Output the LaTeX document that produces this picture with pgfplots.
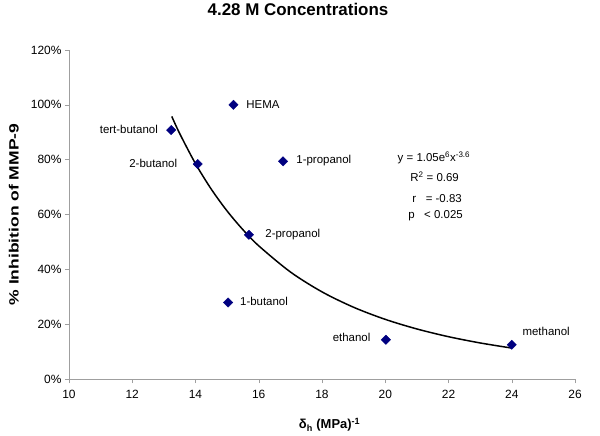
\documentclass[border=0pt]{standalone}
\usepackage{fontspec}
\setmainfont{Liberation Sans}
\usepackage{graphicx}
\usepackage{pgfplots}
\pgfplotsset{compat=1.18}
\definecolor{navy}{RGB}{0,0,128}
\newcommand{\lab}{\fontsize{11.5}{13}\selectfont}
\begin{document}
\begin{tikzpicture}
\begin{axis}[name=ax, scale only axis, width=506bp, height=329bp,
  xmin=10, xmax=26, ymin=0, ymax=120,
  xtick={10,12,...,26}, ytick={0,20,...,120},
  yticklabel={\pgfmathprintnumber{\tick}\%},
  axis x line*=bottom, axis y line*=left,
  axis line style={draw=gray!75, -},
  tick style={draw=gray!75, thin}, tick align=outside, major tick length=4bp,
  ticklabel style={font=\fontsize{12}{14}\selectfont},
  xticklabel style={yshift=-4bp},
  /pgf/number format/assume math mode=true,
  clip=false,
  title={4.28 M Concentrations},
  title style={at={(axis description cs:0.4526,1)}, anchor=center, yshift=35bp, font=\bfseries\fontsize{17}{20}\selectfont},
  xlabel={δ\textsubscript{h} (MPa)\textsuperscript{-1}},
  xlabel style={at={(axis description cs:0.515,0)}, anchor=center, yshift=-46bp, font=\bfseries\fontsize{13}{15}\selectfont},
  ylabel={\scalebox{1.3}[1]{\% Inhibition of MMP-9}},
  ylabel style={at={(axis description cs:-0.1093,0.5)}, anchor=center, font=\bfseries\fontsize{13.5}{15}\selectfont},
]
\addplot[black, line width=1.5pt, smooth] coordinates {
  (13.25,95.77) (13.5,89.53) (14,78.54) (14.5,69.22) (15,61.27) (15.5,54.45)
  (16,48.57) (17,39.04) (18,31.78) (19,26.16) (20,21.75) (21,18.25)
  (22,15.43) (23,13.15) (24,11.28)
};
\addplot[only marks, mark=square*, mark size=3.3bp, mark options={rotate=45, fill=navy, draw=navy}] coordinates {
  (15.2,100) (13.23,90.8) (14.07,78.4) (16.77,79.4) (15.69,52.6)
  (15.03,27.9) (20.02,14.3) (24.0,12.5)
};
\node[anchor=west, font=\lab] at (axis cs:15.5,100) {HEMA};
\node[anchor=east, font=\lab] at (axis cs:12.92,91) {tert-butanol};
\node[anchor=east, font=\lab] at (axis cs:13.53,78.7) {2-butanol};
\node[anchor=west, font=\lab] at (axis cs:17.08,79.5) {1-propanol};
\node[anchor=west, font=\lab] at (axis cs:16.10,52.8) {2-propanol};
\node[anchor=west, font=\lab] at (axis cs:15.30,28.2) {1-butanol};
\node[anchor=east, font=\lab] at (axis cs:19.64,15.2) {ethanol};
\node[anchor=west, font=\lab] at (axis cs:24.23,17.2) {methanol};
\node[font=\lab] at (axis cs:21.54,80.6) {y = 1.05e\textsuperscript{6}x\textsuperscript{-3.6}};
\node[font=\lab] at (axis cs:21.56,73.8) {R\textsuperscript{2} = 0.69};
\node[font=\lab] at (axis cs:21.64,65.8) {r \ \ = -0.83};
\node[font=\lab] at (axis cs:21.59,59.6) {p \ \ < 0.025};
\end{axis}
\pgfresetboundingbox
\path ([xshift=-69bp,yshift=-57bp]ax.south west) rectangle ([xshift=25bp,yshift=50bp]ax.north east);
\end{tikzpicture}
\end{document}
